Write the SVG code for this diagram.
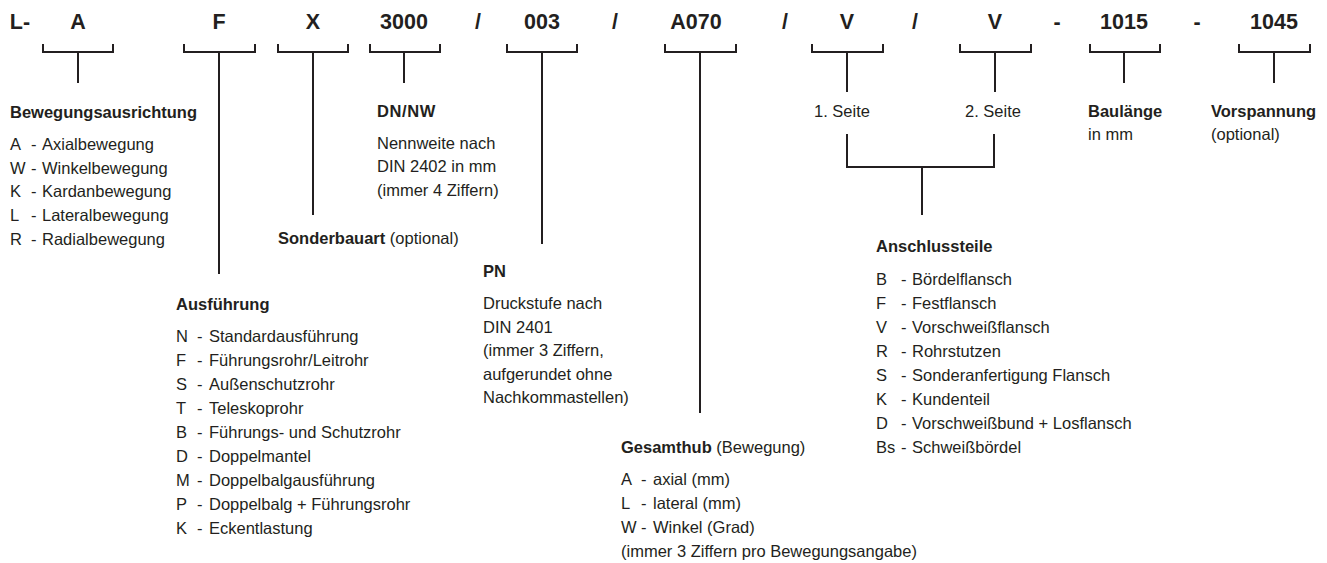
<svg xmlns="http://www.w3.org/2000/svg" width="1327" height="563" viewBox="0 0 1327 563">
<style>
text{font-family:"Liberation Sans",Arial,sans-serif;fill:#231f20;font-size:16.5px}
.code{font-size:21.5px;font-weight:bold;text-anchor:middle}
.b{font-weight:bold}
.c{text-anchor:middle}
.ln{fill:none;stroke:#231f20;stroke-width:2}
</style>
<rect width="1327" height="563" fill="#fff"/>
<g id="code">
<text class="code" x="20" y="29">L-</text>
<text class="code" x="78" y="29">A</text>
<text class="code" x="219" y="29">F</text>
<text class="code" x="313" y="29">X</text>
<text class="code" x="404" y="29">3000</text>
<text class="code" x="478" y="29">/</text>
<text class="code" x="542" y="29">003</text>
<text class="code" x="615" y="29">/</text>
<text class="code" x="696" y="29">A070</text>
<text class="code" x="785" y="29">/</text>
<text class="code" x="847" y="29">V</text>
<text class="code" x="915" y="29">/</text>
<text class="code" x="995" y="29">V</text>
<text class="code" x="1057" y="29">-</text>
<text class="code" x="1124" y="29">1015</text>
<text class="code" x="1197" y="29">-</text>
<text class="code" x="1274" y="29">1045</text>
</g>
<g id="connectors" class="ln">
<path d="M43 44V52H113V44M78 52V83"/>
<path d="M184 44V52H255V44M219 52V274"/>
<path d="M278 44V52H348V44M313 52V215"/>
<path d="M370 44V52H440V44M404 52V83"/>
<path d="M507 44V52H577V44M542 52V244"/>
<path d="M665 44V52H736V44M700 52V413"/>
<path d="M812 44V52H883V44M847 52V92"/>
<path d="M960 44V52H1031V44M995 52V92"/>
<path d="M1090 44V52H1160V44M1124 52V83"/>
<path d="M1239 44V52H1310V44M1274 52V83"/>
<path d="M847 134V167H994V134M922 167V215"/>
</g>
<g id="bewegungsausrichtung">
<text class="b" x="10" y="118">Bewegungsausrichtung</text>
<text y="150"><tspan x="10">A</tspan><tspan x="31">-</tspan><tspan x="42">Axialbewegung</tspan></text>
<text y="174"><tspan x="10">W</tspan><tspan x="31">-</tspan><tspan x="42">Winkelbewegung</tspan></text>
<text y="197"><tspan x="10">K</tspan><tspan x="31">-</tspan><tspan x="42">Kardanbewegung</tspan></text>
<text y="221"><tspan x="10">L</tspan><tspan x="31">-</tspan><tspan x="42">Lateralbewegung</tspan></text>
<text y="245"><tspan x="10">R</tspan><tspan x="31">-</tspan><tspan x="42">Radialbewegung</tspan></text>
</g>
<g id="ausfuehrung">
<text class="b" x="176" y="310">Ausführung</text>
<text y="342"><tspan x="176">N</tspan><tspan x="197">-</tspan><tspan x="209">Standardausführung</tspan></text>
<text y="366"><tspan x="176">F</tspan><tspan x="197">-</tspan><tspan x="209">Führungsrohr/Leitrohr</tspan></text>
<text y="390"><tspan x="176">S</tspan><tspan x="197">-</tspan><tspan x="209">Außenschutzrohr</tspan></text>
<text y="414"><tspan x="176">T</tspan><tspan x="197">-</tspan><tspan x="209">Teleskoprohr</tspan></text>
<text y="438"><tspan x="176">B</tspan><tspan x="197">-</tspan><tspan x="209">Führungs- und Schutzrohr</tspan></text>
<text y="462"><tspan x="176">D</tspan><tspan x="197">-</tspan><tspan x="209">Doppelmantel</tspan></text>
<text y="486"><tspan x="176">M</tspan><tspan x="197">-</tspan><tspan x="209">Doppelbalgausführung</tspan></text>
<text y="510"><tspan x="176">P</tspan><tspan x="197">-</tspan><tspan x="209">Doppelbalg + Führungsrohr</tspan></text>
<text y="534"><tspan x="176">K</tspan><tspan x="197">-</tspan><tspan x="209">Eckentlastung</tspan></text>
</g>
<g id="sonderbauart">
<text x="278" y="244"><tspan class="b">Sonderbauart</tspan> (optional)</text>
</g>
<g id="dn-nw">
<text class="b" x="377" y="117" letter-spacing="0.6">DN/NW</text>
<text x="377" y="149">Nennweite nach</text>
<text x="377" y="172">DIN 2402 in mm</text>
<text x="377" y="196">(immer 4 Ziffern)</text>
</g>
<g id="pn">
<text class="b" x="483" y="277">PN</text>
<text x="483" y="309">Druckstufe nach</text>
<text x="483" y="333">DIN 2401</text>
<text x="483" y="356">(immer 3 Ziffern,</text>
<text x="483" y="380">aufgerundet ohne</text>
<text x="483" y="403">Nachkommastellen)</text>
</g>
<g id="gesamthub">
<text x="621" y="453"><tspan class="b">Gesamthub</tspan> (Bewegung)</text>
<text y="485"><tspan x="621">A</tspan><tspan x="641">-</tspan><tspan x="653">axial (mm)</tspan></text>
<text y="509"><tspan x="621">L</tspan><tspan x="641">-</tspan><tspan x="653">lateral (mm)</tspan></text>
<text y="533"><tspan x="621">W</tspan><tspan x="641">-</tspan><tspan x="653">Winkel (Grad)</tspan></text>
<text x="621" y="557">(immer 3 Ziffern pro Bewegungsangabe)</text>
</g>
<g id="seite1"><text class="c" x="842" y="117">1. Seite</text></g>
<g id="seite2"><text class="c" x="993" y="117">2. Seite</text></g>
<g id="anschlussteile">
<text class="b" x="876" y="252">Anschlussteile</text>
<text y="285"><tspan x="876">B</tspan><tspan x="901">-</tspan><tspan x="912">Bördelflansch</tspan></text>
<text y="309"><tspan x="876">F</tspan><tspan x="901">-</tspan><tspan x="912">Festflansch</tspan></text>
<text y="333"><tspan x="876">V</tspan><tspan x="901">-</tspan><tspan x="912">Vorschweißflansch</tspan></text>
<text y="357"><tspan x="876">R</tspan><tspan x="901">-</tspan><tspan x="912">Rohrstutzen</tspan></text>
<text y="381"><tspan x="876">S</tspan><tspan x="901">-</tspan><tspan x="912">Sonderanfertigung Flansch</tspan></text>
<text y="405"><tspan x="876">K</tspan><tspan x="901">-</tspan><tspan x="912">Kundenteil</tspan></text>
<text y="429"><tspan x="876">D</tspan><tspan x="901">-</tspan><tspan x="912">Vorschweißbund + Losflansch</tspan></text>
<text y="453"><tspan x="876">Bs</tspan><tspan x="901">-</tspan><tspan x="912">Schweißbördel</tspan></text>
</g>
<g id="baulaenge">
<text class="b" x="1088" y="117">Baulänge</text>
<text x="1088" y="140">in mm</text>
</g>
<g id="vorspannung">
<text class="b" x="1211" y="117">Vorspannung</text>
<text x="1211" y="140">(optional)</text>
</g>
</svg>
